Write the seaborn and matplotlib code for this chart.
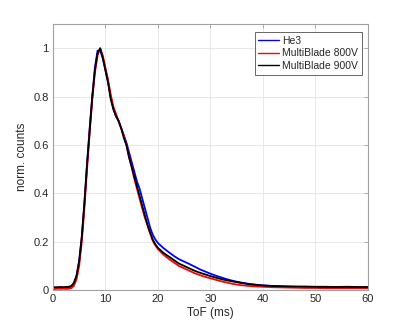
import matplotlib
matplotlib.use("Agg")
import matplotlib.pyplot as plt
import seaborn as sns
import pandas as pd
import numpy as np

# ToF axis (ms)
tof = [0, 0.5, 1, 1.5, 2, 2.5, 3, 3.5, 4, 4.5, 5, 5.5, 6, 6.5, 7, 7.5, 8, 8.5, 9, 9.5,
       10, 10.5, 11, 11.5, 12, 12.5, 13, 13.5, 14, 14.5, 15, 15.5, 16, 16.5, 17, 17.5, 18, 18.5, 19, 19.5,
       20, 21, 22, 23, 24, 25, 26, 27, 28, 29, 30, 31, 32, 33, 34, 35, 36, 37, 38, 39,
       40, 42, 44, 46, 48, 50, 52, 54, 56, 58, 60]

he3 = [0.010, 0.010, 0.011, 0.010, 0.011, 0.011, 0.012, 0.015, 0.028, 0.058, 0.12, 0.22, 0.36, 0.52, 0.67, 0.80, 0.92, 0.99, 0.99, 0.96,
       0.91, 0.86, 0.80, 0.75, 0.72, 0.70, 0.67, 0.64, 0.61, 0.57, 0.53, 0.49, 0.45, 0.42, 0.38, 0.34, 0.30, 0.26, 0.23, 0.21,
       0.195, 0.175, 0.158, 0.142, 0.128, 0.118, 0.108, 0.097, 0.086, 0.077, 0.068, 0.060, 0.053, 0.046, 0.040, 0.035, 0.031, 0.027, 0.024, 0.022,
       0.020, 0.017, 0.015, 0.014, 0.013, 0.012, 0.012, 0.011, 0.011, 0.011, 0.011]

mb800 = [0.005, 0.005, 0.006, 0.005, 0.006, 0.005, 0.006, 0.008, 0.018, 0.045, 0.10, 0.20, 0.34, 0.50, 0.65, 0.79, 0.90, 0.97, 1.00, 0.97,
         0.92, 0.87, 0.81, 0.76, 0.73, 0.70, 0.67, 0.64, 0.60, 0.55, 0.51, 0.46, 0.42, 0.38, 0.34, 0.30, 0.27, 0.235, 0.205, 0.185,
         0.170, 0.148, 0.130, 0.115, 0.100, 0.090, 0.080, 0.070, 0.062, 0.055, 0.049, 0.043, 0.037, 0.032, 0.027, 0.023, 0.020, 0.018, 0.016, 0.015,
         0.014, 0.012, 0.011, 0.010, 0.009, 0.009, 0.008, 0.008, 0.008, 0.008, 0.008]

mb900 = [0.012, 0.012, 0.012, 0.013, 0.012, 0.013, 0.014, 0.017, 0.030, 0.060, 0.12, 0.22, 0.36, 0.52, 0.66, 0.80, 0.91, 0.98, 1.00, 0.96,
         0.91, 0.86, 0.79, 0.75, 0.72, 0.70, 0.67, 0.63, 0.60, 0.55, 0.51, 0.47, 0.43, 0.39, 0.35, 0.31, 0.27, 0.24, 0.21, 0.19,
         0.175, 0.155, 0.140, 0.125, 0.110, 0.100, 0.090, 0.080, 0.072, 0.065, 0.058, 0.052, 0.046, 0.041, 0.037, 0.033, 0.029, 0.026, 0.023, 0.021,
         0.019, 0.017, 0.016, 0.015, 0.015, 0.014, 0.014, 0.013, 0.014, 0.013, 0.013]

series_names = ["He3", "MultiBlade 800V", "MultiBlade 900V"]
series_colors = ["#0000ff", "#ff0000", "#000000"]
xticks = [0, 10, 20, 30, 40, 50, 60]
yticks = [0, 0.2, 0.4, 0.6, 0.8, 1]
ytick_labels = ["0", "0.2", "0.4", "0.6", "0.8", "1"]

df = pd.concat([
    pd.DataFrame({"ToF": tof, "counts": vals, "det": name})
    for name, vals in zip(series_names, [he3, mb800, mb900])
], ignore_index=True)

sns.set_theme(style="white")
plt.rcParams['font.family'] = ['Liberation Sans', 'DejaVu Sans']

fig = plt.figure(figsize=(4.07, 3.26), dpi=100)
ax = fig.add_axes([0.130, 0.110, 0.774, 0.816])

sns.lineplot(data=df, x="ToF", y="counts", hue="det", hue_order=series_names,
             palette=dict(zip(series_names, series_colors)), linewidth=1.3,
             ax=ax, sort=False, estimator=None)

ax.set_xlim(0, 60)
ax.set_ylim(0, 1.1)
ax.set_xticks(xticks)
ax.set_yticks(yticks)
ax.set_yticklabels(ytick_labels)
ax.grid(True, color="#e4e4e4", linewidth=0.6)
ax.set_axisbelow(True)
for s in ax.spines.values():
    s.set_color("#a0a0a0")
    s.set_linewidth(0.8)
    s.set_visible(True)
ax.tick_params(direction="in", length=3, width=0.6, color="#a0a0a0",
               top=True, right=True, labelsize=8, labelcolor="#262626", pad=3)
ax.set_xlabel("ToF (ms)", fontsize=8.5, color="#262626", labelpad=2)
ax.set_ylabel("norm. counts", fontsize=8.5, color="#262626", labelpad=4)

leg = ax.legend(loc="upper right", bbox_to_anchor=(0.981, 0.970), fontsize=7.5,
                frameon=True, fancybox=False, handlelength=2.0, handletextpad=0.3,
                borderpad=0.35, labelspacing=0.25, borderaxespad=0)
leg.get_frame().set_edgecolor("#4d4d4d")
leg.get_frame().set_linewidth(0.6)
leg.get_frame().set_alpha(1)
leg.set_title(None)
for line in leg.get_lines():
    line.set_linewidth(1.0)

fig.savefig("out.png", dpi=100)
